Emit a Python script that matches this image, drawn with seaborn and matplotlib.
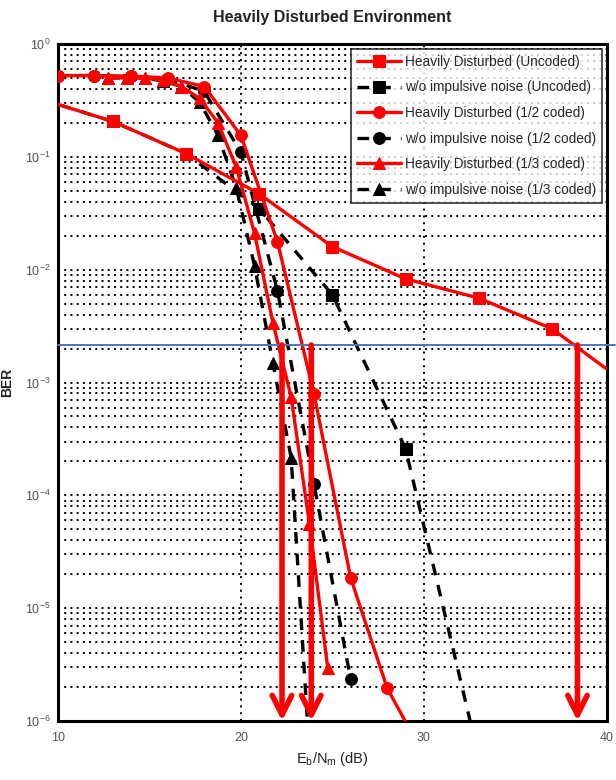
import numpy as np
import pandas as pd
import seaborn as sns
import matplotlib.pyplot as plt
from matplotlib.patches import FancyArrowPatch

# ---------------------------------------------------------------
# Data
# ---------------------------------------------------------------
unc_x = [9, 13, 17, 21, 25, 29, 33, 37, 41]
unc_hd = [0.327, 0.206, 0.107, 0.047, 0.016, 0.0083, 0.0056, 0.0030, 0.0010]
unc_clean_x = [9, 13, 17, 21, 25, 29, 33]
unc_clean = [0.327, 0.206, 0.107, 0.0347, 0.006, 2.6e-4, 4.8e-7]

half_x = [10, 12, 14, 16, 18, 20, 22, 24, 26, 28, 30]
half_hd = [0.525, 0.525, 0.52, 0.50, 0.42, 0.155, 0.0177, 7.9e-4, 1.86e-5, 1.95e-6, 5e-7]
half_clean_x = [10, 12, 14, 16, 18, 20, 22, 24, 26]
half_clean = [0.525, 0.525, 0.52, 0.49, 0.38, 0.11, 6.5e-3, 1.26e-4, 2.35e-6]

third_x = [12.75, 13.75, 14.75, 15.75, 16.75, 17.75, 18.75, 19.75, 20.75, 21.75, 22.75, 23.75, 24.75]
third_hd = [0.5, 0.5, 0.5, 0.48, 0.42, 0.33, 0.2, 0.081, 0.021, 3.4e-3, 7.4e-4, 5.6e-5, 2.95e-6]
third_clean_x = [12.75, 13.75, 14.75, 15.75, 16.75, 17.75, 18.75, 19.75, 20.75, 21.75, 22.75, 23.75]
third_clean = [0.5, 0.5, 0.5, 0.47, 0.42, 0.305, 0.155, 0.053, 0.0108, 1.5e-3, 2.15e-4, 5e-7]

target_ber = 2.15e-3
arrow_x = [22.25, 23.85, 38.4]

labels = ["Heavily Disturbed (Uncoded)", "w/o impulsive noise (Uncoded)",
          "Heavily Disturbed (1/2 coded)", "w/o impulsive noise (1/2 coded)",
          "Heavily Disturbed (1/3 coded)", "w/o impulsive noise (1/3 coded)"]

# ---------------------------------------------------------------
# Plot
# ---------------------------------------------------------------
sns.set_style("white")
plt.rcParams['font.family'] = ['Liberation Sans', 'DejaVu Sans']

fig = plt.figure(figsize=(6.16, 7.8), dpi=100)
ax = fig.add_axes([0.094, 0.0756, 0.891, 0.868])

series = [
    (unc_x, unc_hd, "red", "-", "s", labels[0]),
    (unc_clean_x, unc_clean, "black", "--", "s", labels[1]),
    (half_x, half_hd, "red", "-", "o", labels[2]),
    (half_clean_x, half_clean, "black", "--", "o", labels[3]),
    (third_x, third_hd, "red", "-", "^", labels[4]),
    (third_clean_x, third_clean, "black", "--", "^", labels[5]),
]

# draw black dashed first so red stays on top
order = [1, 3, 5, 0, 2, 4]
for i in order:
    xs, ys, col, ls, mk, lab = series[i]
    df = pd.DataFrame({"x": xs, "y": ys})
    sns.lineplot(data=df, x="x", y="y", ax=ax, color=col, linestyle=ls,
                 marker=mk, markersize=8.5, markeredgecolor=col,
                 linewidth=2.4, sort=False, errorbar=None, label=lab,
                 zorder=3 if col == "red" else 2)

for ln in ax.get_lines():
    if ln.get_linestyle() == "--":
        ln.set_dashes((3.5, 3))

ax.set_yscale("log")
ax.set_xlim(10, 40)
ax.set_ylim(1e-6, 1)
ax.set_xticks([10, 20, 30, 40])

# MATLAB style dotted grid
ax.grid(True, which="major", axis="x", color="black", linestyle=(0, (1, 2.5)), linewidth=1.4)
ax.grid(True, which="both", axis="y", color="black", linestyle=(0, (1, 2.2)), linewidth=1.4)
ax.set_axisbelow(True)

ax.tick_params(axis="both", which="both", direction="in", colors="black",
               labelcolor="#555555", labelsize=9)
ax.tick_params(axis="x", pad=8)
ax.tick_params(axis="y", pad=5)
for sp in ax.spines.values():
    sp.set_linewidth(2.2)
    sp.set_color("black")

# threshold line and arrows
ax.axhline(target_ber, color="#4a78b8", linewidth=1.4, xmax=1.015, clip_on=False, zorder=4)
for xa in arrow_x:
    arr = FancyArrowPatch((xa, target_ber), (xa, 1e-6), arrowstyle="->",
                          color="red", lw=4, mutation_scale=35,
                          shrinkA=0, shrinkB=0, zorder=5, clip_on=False)
    ax.add_patch(arr)

handles, labs = ax.get_legend_handles_labels()
lookup = dict(zip(labs, handles))
leg = ax.legend([lookup[l] for l in labels], labels, loc="upper right",
                fontsize=9.8, handlelength=3.2, frameon=True, fancybox=False,
                edgecolor="black", borderaxespad=0.35, labelspacing=0.85,
                handletextpad=0.3, borderpad=0.45)
leg.get_frame().set_linewidth(1.2)

ax.set_title("Heavily Disturbed Environment", fontsize=11.5, fontweight="bold",
             color="#222222", pad=16)
ax.set_xlabel(r"E$_\mathregular{b}$/N$_\mathregular{m}$ (dB)", fontsize=10.5, color="#222222")
ax.set_ylabel("BER", fontsize=10, fontweight="bold", color="#222222")
ax.yaxis.set_label_coords(-0.08, 0.5)

plt.savefig("out.png", dpi=100)
